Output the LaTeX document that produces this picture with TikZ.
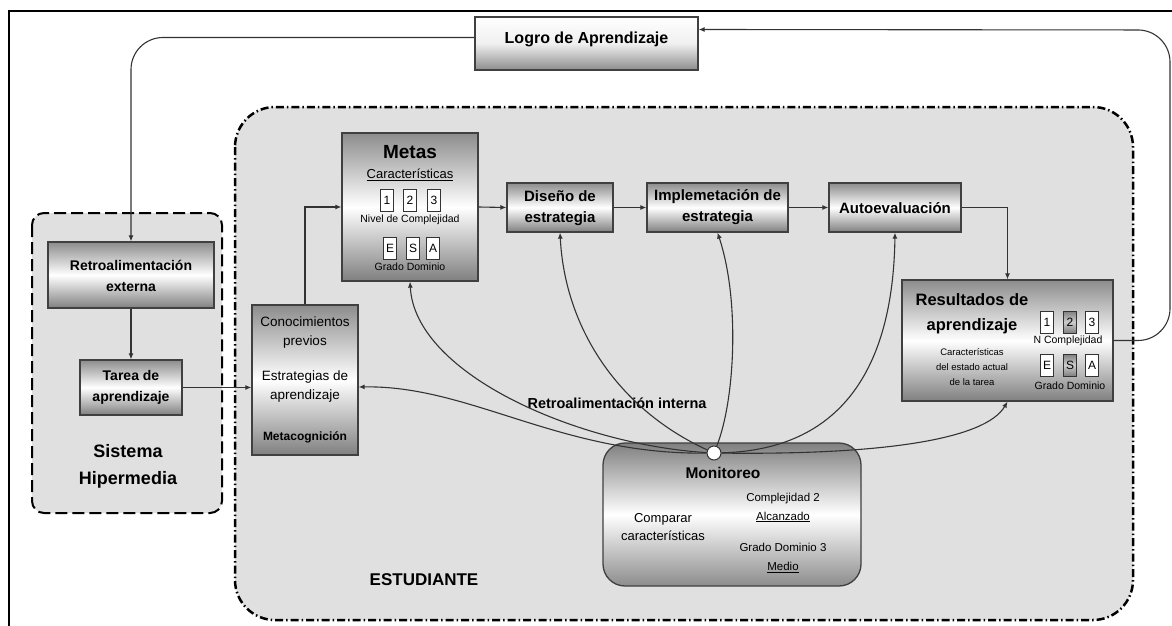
\documentclass[tikz,border=0pt]{standalone}
\usepackage{fontspec}
\setmainfont{Liberation Sans}
\usetikzlibrary{calc,arrows.meta}
\def\fsz#1#2{\fontsize{#1}{#2}\selectfont}

\tikzset{
	caja/.style={draw=black!75, line width=1.3pt, top color=black!45, bottom color=black!50, middle color=white, inner sep=0pt},
	numcaja/.style={draw=black!80, line width=1pt, fill=white, minimum width=13pt, minimum height=22pt, inner sep=0pt, font=\fsz{12}{14}},
	numsel/.style={numcaja, top color=black!50, bottom color=black!50, middle color=black!20},
	flecha/.style={draw=black!80, line width=1.1pt, -{Latex[length=6pt,width=5pt]}},
	lazo/.style={draw=black!70, line width=1.1pt, rounded corners=32pt},
}

\begin{document}
\begin{tikzpicture}[x=1pt, y=-1pt]
			%%%%% START %%%%%
			\useasboundingbox (0, 0) rectangle (1172, 626);
			
			\draw[line width=1.5pt] (9, 626) -- (9, 11) -- (1172, 11);
			
			% regiones
			\draw[line width=2.5pt, dash pattern=on 8pt off 3pt on 1.5pt off 3pt, fill=black!12, rounded corners=40pt] (235, 107) rectangle (1133, 620);
			\draw[line width=2pt, dash pattern=on 12pt off 5pt, fill=black!12, rounded corners=12pt] (32, 213) rectangle (222, 513);
			
			% logro
			\node[caja, minimum width=223pt, minimum height=53pt, top color=white, bottom color=black!45, middle color=black!6] (logro) at (586.5, 43.5) {};
			\node[font=\fsz{16}{19}\bfseries] (tlogro) at (586.5, 39) {Logro de Aprendizaje};
			
			% sistema hipermedia
			\node[caja, minimum width=166pt, minimum height=66pt] (retro) at (131, 275) {};
			\node[font=\fsz{14}{21}\bfseries, align=center] (tretro) at (131, 275.5) {Retroalimentación\\externa};
			\node[caja, minimum width=102pt, minimum height=55pt] (tarea) at (131, 387.5) {};
			\node[font=\fsz{14}{21}\bfseries, align=center] (ttarea) at (131, 387.5) {Tarea de\\aprendizaje};
			\node[font=\fsz{18}{27}\bfseries, align=center] (tsist) at (128, 466.5) {Sistema\\Hipermedia};
			
			% conocimientos
			\node[caja, minimum width=106pt, minimum height=150pt] (conoc) at (305, 380) {};
			\node[font=\fsz{13.5}{19}, align=center] (tconoc) at (305, 332.5) {Conocimientos\\previos};
			\node[font=\fsz{13.5}{19}, align=center] (testr) at (305, 387) {Estrategias de\\aprendizaje};
			\node[font=\fsz{12}{14}\bfseries] (tmeta) at (305, 437) {Metacognición};
			
			% metas
			\node[caja, minimum width=136pt, minimum height=148pt] (metas) at (410, 207) {};
			\node[font=\fsz{19}{22}\bfseries] (tmetas) at (410, 152) {Metas};
			\node[font=\fsz{13}{15}] (tcarac) at (410, 175) {\underline{Características}};
			\node[numcaja] (m1) at (387, 200) {1};
			\node[numcaja] (m2) at (410, 200) {2};
			\node[numcaja] (m3) at (434, 200) {3};
			\node[font=\fsz{10.5}{12}] (tnivel) at (410, 220) {Nivel de Complejidad};
			\node[numcaja] (me) at (390, 248) {E};
			\node[numcaja] (ms) at (413, 248) {S};
			\node[numcaja] (ma) at (433, 248) {A};
			\node[font=\fsz{10.5}{12}] (tgrado) at (410, 267) {Grado Dominio};
			
			% estrategia
			\node[caja, minimum width=106pt, minimum height=49pt] (diseno) at (560, 207.5) {};
			\node[font=\fsz{15}{21}\bfseries, align=center] (tdiseno) at (560, 208) {Diseño de\\estrategia};
			\node[caja, minimum width=141pt, minimum height=49pt] (impl) at (717.5, 207.5) {};
			\node[font=\fsz{15}{21}\bfseries, align=center] (timpl) at (717.5, 207) {Implemetación de\\estrategia};
			\node[caja, minimum width=132pt, minimum height=49pt] (auto) at (895, 207.5) {};
			\node[font=\fsz{15}{18}\bfseries] (tauto) at (895, 208) {Autoevaluación};
			
			% resultados
			\node[caja, minimum width=211pt, minimum height=121pt] (result) at (1007.5, 340.5) {};
			\node[font=\fsz{16.5}{25}\bfseries, align=center] (tresult) at (972, 314) {Resultados de\\aprendizaje};
			\node[font=\fsz{9.5}{15}, align=center] (tcarr) at (972, 367) {Características\\del estado actual\\de la tarea};
			\node[numcaja] (r1) at (1047, 322) {1};
			\node[numsel] (r2) at (1070, 322) {2};
			\node[numcaja] (r3) at (1092, 322) {3};
			\node[font=\fsz{10.5}{12}] (tncomp) at (1068, 341) {N Complejidad};
			\node[numcaja] (re) at (1047, 365) {E};
			\node[numsel] (rs) at (1070, 365) {S};
			\node[numcaja] (ra) at (1092, 365) {A};
			\node[font=\fsz{10.5}{12}] (trgrado) at (1070, 386) {Grado Dominio};
			
			% monitoreo
			\node[caja, rounded corners=22pt, minimum width=258pt, minimum height=143pt, top color=black!50, bottom color=black!45, middle color=white] (monit) at (732, 514.5) {};
			\node[font=\fsz{15.5}{18}\bfseries] (tmonit) at (723, 473) {Monitoreo};
			\node[font=\fsz{13}{18}, align=center] (tcomp) at (663, 527) {Comparar\\características};
			\node[font=\fsz{11.5}{19}, align=center] (tcomp2) at (783, 507.5) {Complejidad 2\\\underline{Alcanzado}};
			\node[font=\fsz{11.5}{19}, align=center] (tdom3) at (783, 558) {Grado Dominio 3\\\underline{Medio}};
			
			\node[font=\fsz{14.5}{17}\bfseries] (tinterna) at (617, 403) {Retroalimentación interna};
			\node[font=\fsz{17}{20}\bfseries] (testud) at (424, 580) {ESTUDIANTE};
			
			% conectores
			\coordinate (lazone) at (1170, 30);
			\draw[lazo, flecha] ([yshift=6pt]logro.west) -| (retro.north);
			\draw[lazo, flecha] (result.east) -| (lazone) -- ([yshift=14pt]logro.east);
			
			\draw[flecha] (retro) -- (tarea);
			\draw[flecha] (tarea.east) -- (tarea.east -| conoc.west);
			\draw[flecha] (conoc.north) |- (metas.west);
			\draw[flecha] (metas.east) -- (diseno.west);
			\draw[flecha] (diseno) -- (impl);
			\draw[flecha] (impl) -- (auto);
			\draw[flecha] (auto.east) -| (result.north);
			
			\node[circle, draw=black!80, fill=white, line width=1pt, minimum size=14pt, inner sep=0pt] (hub) at (714, 453) {};
			\draw[flecha] (hub) .. controls (580, 445) and (415, 375) .. (metas.south);
			\draw[flecha] (hub) .. controls (560, 455) and (470, 385) .. ([yshift=-7pt]conoc.east);
			\draw[flecha] (hub) .. controls (620, 410) and (565, 330) .. (diseno.south);
			\draw[flecha] (hub) .. controls (735, 400) and (740, 300) .. (impl.south);
			\draw[flecha] (hub) .. controls (840, 450) and (893, 370) .. (auto.south);
			\draw[flecha] (hub) .. controls (880, 455) and (985, 440) .. (result.south);
			
			%%%%% END %%%%%
\end{tikzpicture}
\end{document}
